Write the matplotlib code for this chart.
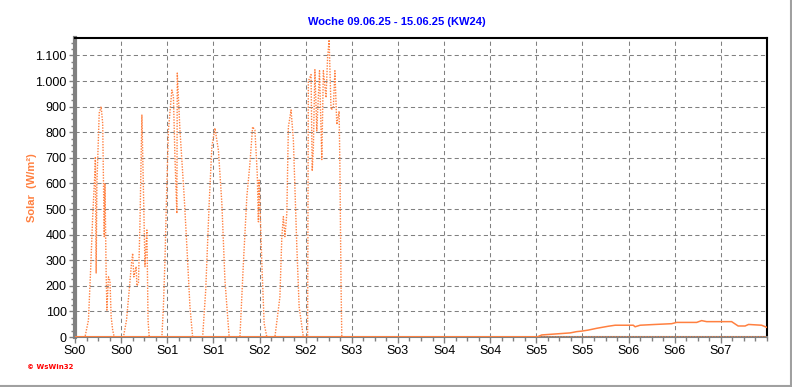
import matplotlib
matplotlib.use("Agg")
import matplotlib.pyplot as plt
from matplotlib.ticker import FixedLocator, MultipleLocator

# ---- data ----
title = "Woche 09.06.25 - 15.06.25 (KW24)"
ylabel = "Solar  (W/m²)"
x_tick_labels = ["So0", "So0", "So1", "So1", "So2", "So2", "So3", "So3",
                 "So4", "So4", "So5", "So5", "So6", "So6", "So7"]
y_ticks = [0, 100, 200, 300, 400, 500, 600, 700, 800, 900, 1000, 1100]
y_tick_labels = ["0", "100", "200", "300", "400", "500", "600", "700", "800",
                 "900", "1.000", "1.100"]

# solar radiation (hours, W/m²)
solar_t = [0, 2.6, 3.5, 4.1, 4.6, 5.2, 5.3, 5.5, 5.7, 6.3, 6.8, 7.2, 7.6, 7.8, 8.1, 8.3,
           8.7, 9.1, 9.4, 9.8, 10.2,
           12.6, 13.4, 14.1, 14.7, 15.0, 15.3, 15.9, 16.1, 16.5, 16.9, 17.4, 17.8, 18.2,
           18.7, 19.0, 19.3,
           22.6, 23.0, 23.4, 23.9, 24.3, 24.9, 25.2, 25.6, 26.0, 26.5, 26.6, 27.3, 28.4,
           29.1, 29.9, 30.6,
           33.2, 34.0, 34.9, 35.6, 36.4, 37.3, 38.2, 39.0, 40.1,
           42.9, 43.8, 44.7, 45.5, 46.2, 46.8, 47.4, 47.7, 47.9, 48.6, 49.2, 49.9,
           52.0, 53.3, 53.8, 54.2, 54.6, 55.1, 55.5, 55.8, 56.2, 56.8, 57.7, 58.3, 59.4,
           60.5, 60.7, 61.4, 61.7, 62.0, 62.4, 62.9, 63.6, 64.2, 64.6, 65.3, 65.7, 66.1,
           66.6, 67.2, 67.6, 68.1, 68.7, 68.9, 69.2, 69.4,
           180]
solar_v = [0, 0, 66, 275, 470, 652, 704, 250, 600, 875, 900, 835, 392, 600, 250, 105,
           235, 220, 80, 27, 0,
           0, 66, 183, 288, 327, 235, 275, 200, 210, 445, 867, 574, 275,
           418, 66, 0,
           0, 120, 300, 600, 808, 913, 965, 940, 700, 483, 1031, 808, 548,
           353, 118, 0,
           0, 183, 522, 743, 816, 730, 522, 222, 0,
           0, 288, 548, 678, 821, 808, 639, 450, 613, 288, 53, 0,
           0, 157, 392, 470, 392, 483, 821, 848, 887, 770, 353, 118, 0,
           0, 999, 1025, 648, 738, 1044, 805, 1040, 693, 1040, 935, 1090, 1161,
           888, 895, 1040, 830, 882, 673, 204, 0,
           0]

# second series (solid)
line_t = [0, 120.2, 121.4, 125.1, 128.8, 130.5, 131.8, 133.5, 135.7, 138.7, 140.5,
          145.2, 145.7, 147.0, 150.9, 155.2, 156.5, 161.7, 163.0, 164.3, 170.8,
          172.5, 174.3, 175.2, 178.6, 179.9]
line_v = [0, 0, 8, 12, 16, 21, 23, 27, 34, 42, 46,
          46, 40, 46, 49, 52, 57, 57, 64, 60, 60,
          43, 43, 49, 46, 38]

# ---- plot ----
W, H = 792, 387
fig = plt.figure(figsize=(W / 100, H / 100), dpi=100)
fig.patch.set_facecolor("white")
ax = fig.add_axes([75 / W, 1 - 337 / H, (767 - 75) / W, (337 - 38) / H])

orange = "#FF8040"
ax.plot(line_t, line_v, color=orange, lw=1.1, solid_joinstyle="miter", zorder=3)
ax.plot(line_t[:2], line_v[:2], color=orange, lw=2, zorder=3)
ax.plot(solar_t, solar_v, color=orange, lw=1.0, linestyle=(0, (1, 1)), zorder=4)

ax.set_xlim(0, 180)
ax.set_ylim(0, 1168)

ax.xaxis.set_major_locator(FixedLocator([12 * i for i in range(len(x_tick_labels))]))
ax.set_xticklabels(x_tick_labels)
ax.xaxis.set_minor_locator(MultipleLocator(3))
ax.set_yticks(y_ticks)
ax.set_yticklabels(y_tick_labels)
ax.yaxis.set_minor_locator(MultipleLocator(25))

ax.grid(True, which="major", color="#808080", linestyle=(0, (4, 3)), lw=0.75)
ax.set_axisbelow(True)

for s in ["top", "right"]:
    ax.spines[s].set_color("black")
    ax.spines[s].set_linewidth(1.5)
ax.spines["left"].set_color("#808080")
ax.spines["left"].set_linewidth(3)
ax.spines["bottom"].set_color("#808080")
ax.spines["bottom"].set_linewidth(1.5)

ax.tick_params(axis="both", which="major", labelsize=9, color="#808080",
               length=4, width=1, labelcolor="black", pad=2)
ax.tick_params(axis="both", which="minor", color="#808080", length=3, width=1)
for lbl in ax.get_xticklabels() + ax.get_yticklabels():
    lbl.set_fontfamily("Liberation Sans")

fig.text(397 / W, 1 - 22 / H, title, color="#0000FF", fontsize=8,
         fontweight="bold", ha="center", va="center", family="Liberation Sans")
fig.text(32 / W, 1 - 188 / H, ylabel, color=orange, fontsize=8, fontweight="bold",
         rotation=90, ha="center", va="center", family="Liberation Sans")
fig.text(27 / W, 1 - 367 / H, "© WsWin32", color="red", fontsize=5,
         fontweight="bold", ha="left", va="center", family="DejaVu Sans")

# outer border (bottom and right gray)
fig.add_artist(plt.Line2D([0, 1], [1 / H, 1 / H], color="#A0A0A0", lw=1.5,
                          transform=fig.transFigure))
fig.add_artist(plt.Line2D([1 - 1 / W, 1 - 1 / W], [0, 1], color="#A0A0A0", lw=1.5,
                          transform=fig.transFigure))

fig.savefig("out.png", dpi=100)
